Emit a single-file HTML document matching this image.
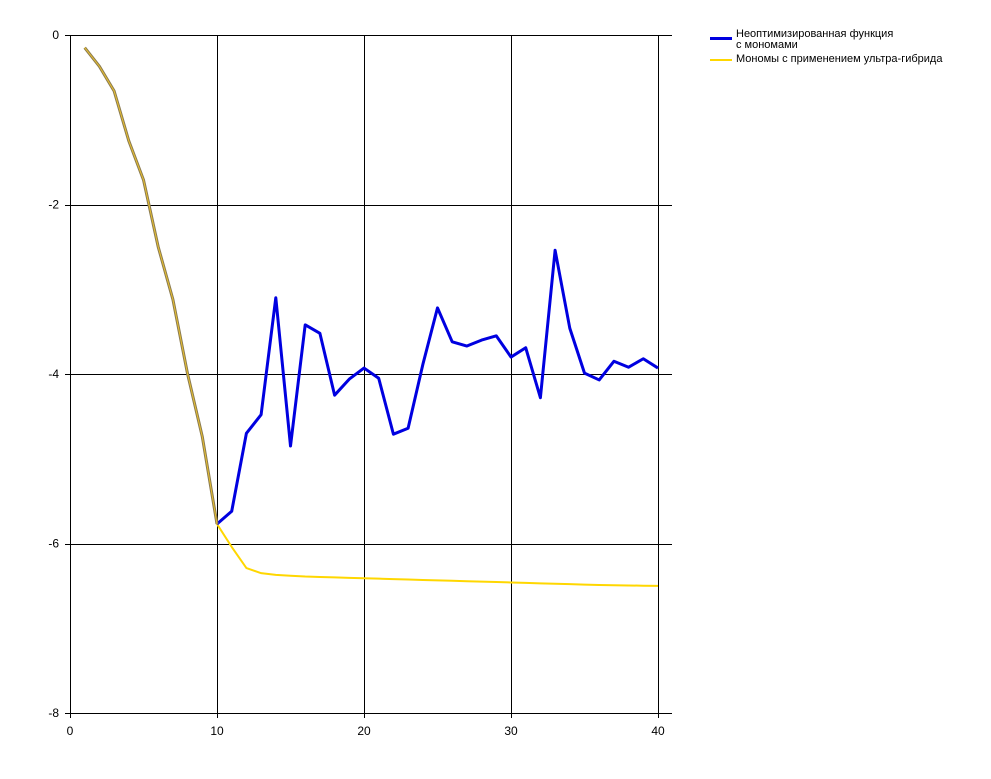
<!DOCTYPE html>
<html><head><meta charset="utf-8"><style>
body{margin:0;background:#fff;}
svg{display:block;font-family:"Liberation Sans",sans-serif;}
</style></head><body>
<svg id="chart" width="991" height="779"></svg>
<script>
const xValues=[1,2,3,4,5,6,7,8,9,10,11,12,13,14,15,16,17,18,19,20,21,22,23,24,25,26,27,28,29,30,31,32,33,34,35,36,37,38,39,40];
const blueValues=[-0.15,-0.37,-0.66,-1.25,-1.71,-2.5,-3.12,-4.0,-4.74,-5.77,-5.62,-4.7,-4.48,-3.1,-4.85,-3.42,-3.52,-4.25,-4.06,-3.93,-4.05,-4.71,-4.64,-3.89,-3.22,-3.62,-3.67,-3.6,-3.55,-3.8,-3.69,-4.28,-2.54,-3.46,-3.99,-4.07,-3.85,-3.92,-3.82,-3.93];
const yellowValues=[-0.15,-0.37,-0.66,-1.25,-1.71,-2.5,-3.12,-4.0,-4.74,-5.77,-6.04,-6.29,-6.35,-6.37,-6.38,-6.39,-6.395,-6.4,-6.405,-6.41,-6.415,-6.42,-6.425,-6.43,-6.435,-6.44,-6.445,-6.45,-6.455,-6.46,-6.465,-6.47,-6.475,-6.48,-6.485,-6.49,-6.492,-6.495,-6.498,-6.5];
const xTicks=[0,10,20,30,40];
const yTicks=[0,-2,-4,-6,-8];
const NS="http://www.w3.org/2000/svg";
const svg=document.getElementById('chart');
const X=v=>70+v*14.7;
const Y=v=>35-v*84.75;
function mk(t,a,p){const e=document.createElementNS(NS,t);for(const k in a)e.setAttribute(k,a[k]);(p||svg).appendChild(e);return e;}
xTicks.forEach(t=>{
 const px=Math.round(X(t))+0.5;
 const l=mk('line',{x1:px,x2:px,y1:35,y2:718,stroke:'#000','stroke-width':1,'shape-rendering':'crispEdges'});
 
 
 const tx=mk('text',{x:X(t),y:735,'text-anchor':'middle','font-size':12});
 tx.textContent=t;
 
 
});
yTicks.forEach(t=>{
 const py=Math.round(Y(t))+0.5;
 const l=mk('line',{x1:65,x2:672,y1:py,y2:py,stroke:'#000','stroke-width':1,'shape-rendering':'crispEdges'});
 
 
 const tx=mk('text',{x:59,y:Y(t)+4,'text-anchor':'end','font-size':12});
 tx.textContent=t;
 
 
});
function pts(vals,from,to){return vals.slice(from,to).map((v,i)=>X(xValues[i+from])+','+Y(v)).join(' ');}
const yl=mk('polyline',{points:pts(yellowValues,0,40),fill:'none',stroke:'#ffd700','stroke-width':2});


const bl=mk('polyline',{points:pts(blueValues,9,40),fill:'none',stroke:'#0000e0','stroke-width':3,'stroke-linejoin':'round'});


const bl2=mk('polyline',{points:pts(blueValues,0,10),fill:'none',stroke:'#8a7a50','stroke-width':3});


const yl2=mk('polyline',{points:pts(yellowValues,0,10),fill:'none',stroke:'#e8c030','stroke-width':1});


</script>
<div style="position:absolute;left:708px;top:29px;font:11px 'Liberation Sans',sans-serif;color:#000;line-height:11px;white-space:nowrap;">
 <div style="position:relative;height:25px;width:260px;">
  <span style="position:absolute;left:2px;top:8px;width:22px;height:3px;background:#0000e0;"></span>
  <span style="position:absolute;left:28px;top:0;">Неоптимизированная функция<br>с мономами</span>
 </div>
 <div style="position:relative;height:12px;width:260px;">
  <span style="position:absolute;left:2px;top:5px;width:22px;height:2px;background:#ffd700;"></span>
  <span style="position:absolute;left:28px;top:0;">Мономы с применением ультра-гибрида</span>
 </div>
</div>
</body></html>
